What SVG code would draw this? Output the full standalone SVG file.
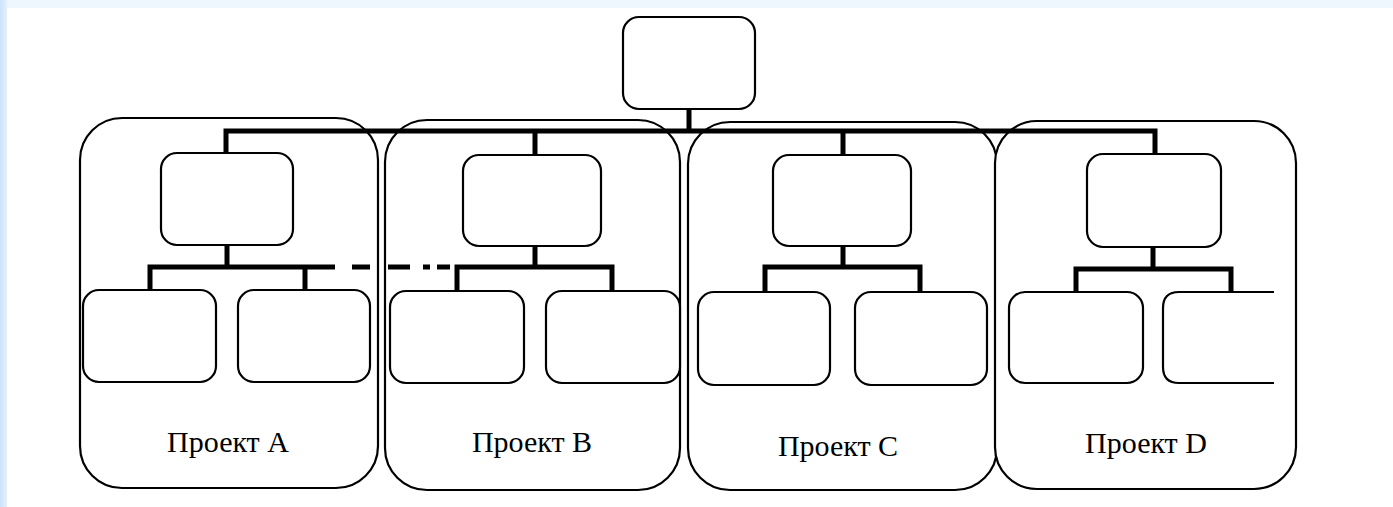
<svg xmlns="http://www.w3.org/2000/svg" width="1393" height="507" viewBox="0 0 1393 507">
<defs>
<linearGradient id="bgl" x1="0" y1="0" x2="1" y2="0">
<stop offset="0" stop-color="#cce3fa"/>
<stop offset="1" stop-color="#e4f1fd"/>
</linearGradient>
</defs>
<style>
.box{fill:#fff;stroke:#000;stroke-width:2.2}
.cont{fill:#fff;stroke:#000;stroke-width:2.2}
.con{fill:none;stroke:#000;stroke-width:5;stroke-linecap:butt}
.lbl{font-family:"Liberation Serif","Times New Roman",serif;font-size:30px;fill:#000;text-anchor:middle}
</style>
<rect x="0" y="0" width="1393" height="507" fill="#eef6fe"/>
<rect x="0" y="0" width="7" height="507" fill="url(#bgl)"/>
<rect x="7" y="8" width="1386" height="499" fill="#fff"/>

<g id="projA"><rect class="cont" x="80" y="118" width="298" height="370" rx="42"/></g>
<g id="projB"><rect class="cont" x="385" y="120" width="295" height="370" rx="42"/></g>
<g id="projC"><rect class="cont" x="688" y="122" width="309" height="368" rx="42"/></g>
<g id="projD"><rect class="cont" x="995" y="121" width="301" height="368" rx="42"/></g>

<g id="connectors">
<path class="con" d="M689 109V131M226 155V131H1155V154"/>
<path class="con" d="M535 131V155M843 131V154"/>
<path class="con" d="M227 245V267M150 290V267H322M305 267V290"/>
<path class="con" d="M535 246V267M457 290V267H612V290"/>
<path class="con" d="M843 246V267M765 292V267H920V292"/>
<path class="con" d="M1153 247V269M1076 292V269H1231V292"/>
<path class="con" d="M322 267H457" stroke-dasharray="13 17 18 18 22 13 7 7"/>
</g>

<g id="top"><rect class="box" x="623" y="17" width="132" height="92" rx="16"/></g>

<g id="a-mid"><rect class="box" x="161" y="153" width="132" height="92" rx="16"/></g>
<g id="a-c1"><rect class="box" x="83" y="290" width="133" height="92" rx="16"/></g>
<g id="a-c2"><rect class="box" x="238" y="290" width="132" height="92" rx="16"/></g>
<g id="a-lbl"><text class="lbl" x="228" y="452">Проект A</text></g>

<g id="b-mid"><rect class="box" x="463" y="155" width="138" height="91" rx="16"/></g>
<g id="b-c1"><rect class="box" x="390" y="291" width="134" height="92" rx="16"/></g>
<g id="b-c2"><rect class="box" x="546" y="291" width="134" height="92" rx="16"/></g>
<g id="b-lbl"><text class="lbl" x="532" y="452">Проект B</text></g>

<g id="c-mid"><rect class="box" x="773" y="155" width="138" height="91" rx="16"/></g>
<g id="c-c1"><rect class="box" x="698" y="292" width="132" height="93" rx="16"/></g>
<g id="c-c2"><rect class="box" x="855" y="292" width="132" height="93" rx="16"/></g>
<g id="c-lbl"><text class="lbl" x="838" y="456">Проект C</text></g>

<g id="d-mid"><rect class="box" x="1087" y="154" width="134" height="93" rx="16"/></g>
<g id="d-c1"><rect class="box" x="1009" y="292" width="134" height="91" rx="16"/></g>
<g id="d-c2"><path class="box" d="M1274 292H1179Q1163 292 1163 308V367Q1163 383 1179 383H1274"/></g>
<g id="d-lbl"><text class="lbl" x="1146" y="453">Проект D</text></g>
</svg>
